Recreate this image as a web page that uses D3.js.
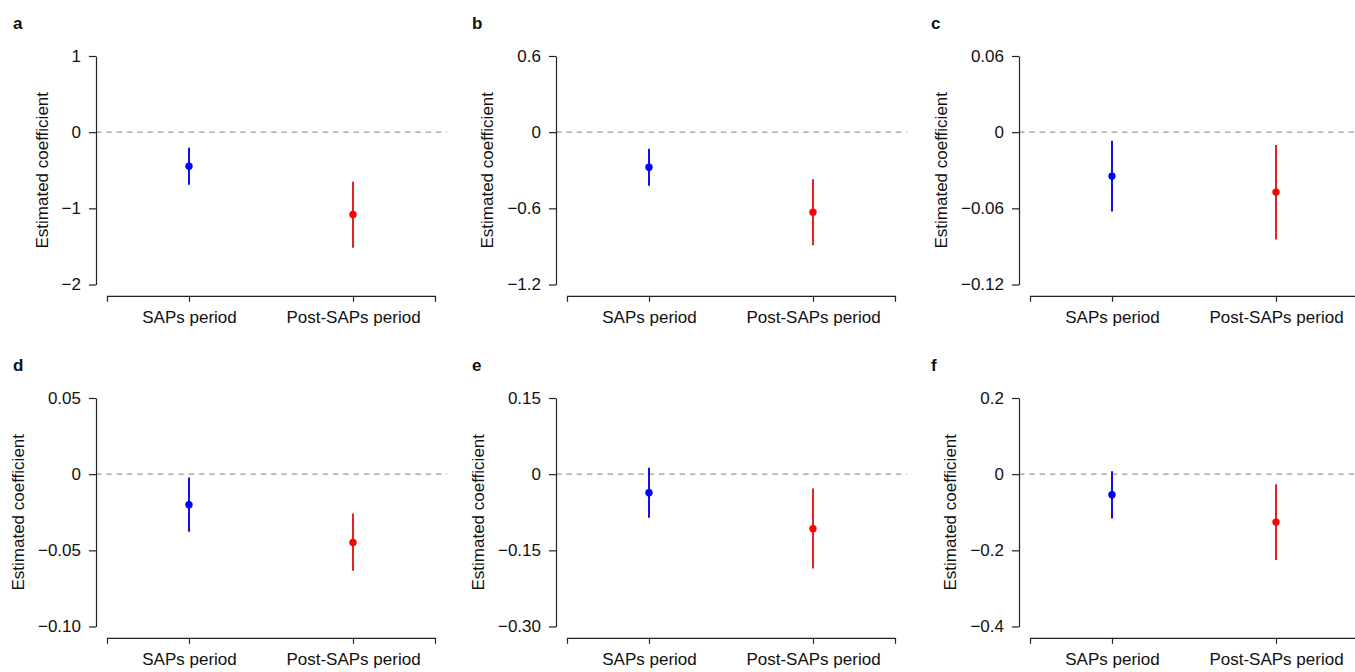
<!DOCTYPE html>
<html>
<head>
  <meta charset="utf-8">
  <title>Coeficientes</title>
  <script src="https://d3js.org/d3.v7.min.js"></script>
  <style>
    body { margin: 0; background: #fff; }
    text { font-family: "Liberation Sans", Arial, Helvetica, sans-serif; fill: #111; }
  </style>
</head>
<body>

<div id="vis"></div>

<script>
// datos (6 paneles, 2 periodos cada uno)
var letras = ["a", "b", "c", "d", "e", "f"];
var categorias = ["SAPs period", "Post-SAPs period"];

var ticks = [
  [-2, -1, 0, 1],
  [-1.2, -0.6, 0, 0.6],
  [-0.12, -0.06, 0, 0.06],
  [-0.10, -0.05, 0, 0.05],
  [-0.30, -0.15, 0, 0.15],
  [-0.4, -0.2, 0, 0.2]
];
var tickLabels = [
  ["\u22122", "\u22121", "0", "1"],
  ["\u22121.2", "\u22120.6", "0", "0.6"],
  ["\u22120.12", "\u22120.06", "0", "0.06"],
  ["\u22120.10", "\u22120.05", "0", "0.05"],
  ["\u22120.30", "\u22120.15", "0", "0.15"],
  ["\u22120.4", "\u22120.2", "0", "0.2"]
];

// estimacion puntual y limites del intervalo [SAPs, Post-SAPs]
var estimado = [
  [-0.446, -1.08],
  [-0.276, -0.63],
  [-0.0346, -0.0472],
  [-0.0201, -0.0448],
  [-0.0367, -0.1075],
  [-0.0542, -0.1258]
];
var inferior = [
  [-0.69, -1.518],
  [-0.423, -0.89],
  [-0.0625, -0.0845],
  [-0.0378, -0.0634],
  [-0.0859, -0.186],
  [-0.1162, -0.2254]
];
var superior = [
  [-0.206, -0.652],
  [-0.131, -0.37],
  [-0.0068, -0.0102],
  [-0.0022, -0.0258],
  [0.0124, -0.0282],
  [0.0079, -0.0262]
];

var colores = ["#0000ff", "#ff0000"];
var coloresLinea = ["#1010f0", "#e02424"];

// layout
var W = 1355, H = 672;
var ejeX = [96, 556, 1019];   // posicion del eje y en cada columna
var letraX = [13, 472, 931];
var filaTop = [56, 398];
var altoPlot = 228.5;
var anchoX = 328;

var svg = d3.select("div#vis").append("svg")
  .attr("width", W)
  .attr("height", H);

letras.forEach(function(letra, p) {
  var col = p % 3, fila = Math.floor(p / 3);
  var x0 = ejeX[col];
  var top = filaTop[fila];
  var t = ticks[p];

  var y = d3.scaleLinear()
    .domain([t[0], t[t.length - 1]])
    .range([top + altoPlot, top]);

  var x = d3.scaleLinear()
    .domain([0.5, 2.5])
    .range([x0 + 11, x0 + 11 + anchoX]);

  var g = svg.append("g");

  // letra del panel
  g.append("text")
    .attr("x", letraX[col])
    .attr("y", top - 27)
    .style("font-weight", "bold")
    .style("font-size", "17px")
    .text(letra);

  // linea de cero
  g.append("line")
    .attr("x1", x0)
    .attr("x2", x.range()[1] + 12)
    .attr("y1", y(0))
    .attr("y2", y(0))
    .attr("stroke", "#999")
    .attr("stroke-width", 1.4)
    .attr("stroke-dasharray", "5.5,4.8");

  // eje y
  var gy = g.append("g")
    .attr("transform", "translate(" + x0 + ",0)")
    .call(d3.axisLeft(y)
      .tickValues(t)
      .tickSize(7)
      .tickSizeOuter(0)
      .tickPadding(8)
      .tickFormat(function(d, i) { return tickLabels[p][i]; }));
  gy.selectAll("text").style("font-size", "17px").attr("fill", "#111");

  // eje x
  var gx = g.append("g")
    .attr("transform", "translate(0," + (top + altoPlot + 11.3) + ")")
    .call(d3.axisBottom(x)
      .tickValues([1, 2])
      .tickSize(6)
      .tickSizeOuter(6)
      .tickPadding(9)
      .tickFormat(function(d) { return categorias[d - 1]; }));
  gx.selectAll("text").style("font-size", "17px").attr("fill", "#111");

  g.selectAll(".domain, .tick line")
    .attr("stroke", "#222")
    .attr("stroke-width", 1.2);

  // titulo del eje y, a la izquierda de las etiquetas
  var bb = gy.node().getBBox();
  g.append("text")
    .attr("transform", "translate(" + (x0 + bb.x - 14) + "," + (top + altoPlot / 2) + ") rotate(-90)")
    .attr("text-anchor", "middle")
    .style("font-size", "17px")
    .text("Estimated coefficient");

  // intervalos
  g.selectAll("line.ic").data(estimado[p]).enter().append("line")
    .attr("class", "ic")
    .attr("x1", function(d, i) { return x(i + 1); })
    .attr("x2", function(d, i) { return x(i + 1); })
    .attr("y1", function(d, i) { return y(inferior[p][i]); })
    .attr("y2", function(d, i) { return y(superior[p][i]); })
    .attr("stroke", function(d, i) { return coloresLinea[i]; })
    .attr("stroke-width", 2);

  // puntos
  g.selectAll("circle").data(estimado[p]).enter().append("circle")
    .attr("cx", function(d, i) { return x(i + 1); })
    .attr("cy", function(d) { return y(d); })
    .attr("r", 3.7)
    .attr("fill", function(d, i) { return colores[i]; });
});
</script>

</body>
</html>
